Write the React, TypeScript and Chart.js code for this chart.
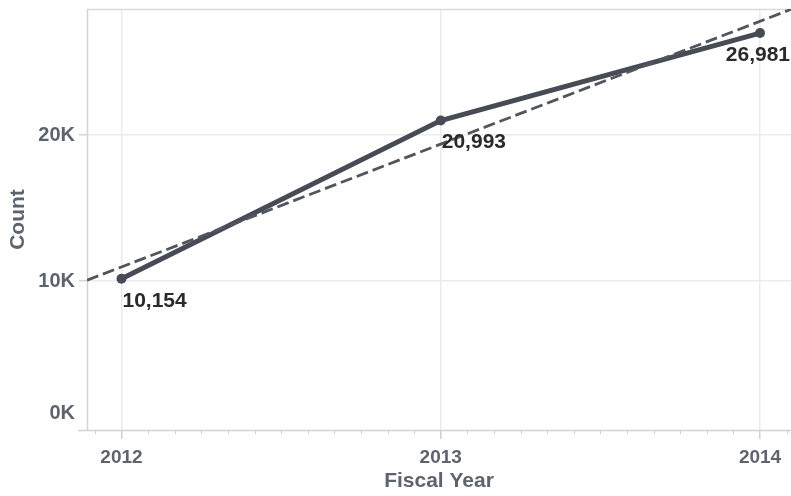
import React, { useEffect, useRef } from "react";
import { Chart, registerables } from "chart.js";

Chart.register(...registerables);

// Fiscal year totals
const years = [2012, 2013, 2014];
const counts = [10154, 20993, 26981];
const yTickValues = [0, 10000, 20000];
const xTickValues = [2012, 2013, 2014];

// Visible axis ranges
const X_MIN = 2011.892;
const X_MAX = 2014.097;
const Y_MIN = -205;
const Y_MAX = 28630;

const FONT = "'Liberation Sans', Arial, sans-serif";
const AXIS_TEXT = "#5e646f";
const LINE_COLOR = "#464b56";
const TREND_COLOR = "#51565e";

// Least-squares trend line over the yearly counts
function trendLine(xs: number[], ys: number[]) {
  const n = xs.length;
  const mx = xs.reduce((a, b) => a + b, 0) / n;
  const my = ys.reduce((a, b) => a + b, 0) / n;
  let sxy = 0;
  let sxx = 0;
  for (let i = 0; i < n; i++) {
    sxy += (xs[i] - mx) * (ys[i] - my);
    sxx += (xs[i] - mx) * (xs[i] - mx);
  }
  const slope = sxy / sxx;
  const at = (x: number) => my + slope * (x - mx);
  return [
    { x: X_MIN, y: at(X_MIN) },
    { x: X_MAX, y: at(X_MAX) },
  ];
}

const formatCount = (v: number) => v.toLocaleString("en-US");

// Frame lines, monthly minor ticks, axis labels and value labels
const decorations = {
  id: "decorations",
  beforeDatasetsDraw(chart: any) {
    const { ctx, chartArea, scales } = chart;
    const x = scales.x;
    ctx.save();
    ctx.lineWidth = 1.5;
    // top border
    ctx.strokeStyle = "#dadada";
    ctx.beginPath();
    ctx.moveTo(chartArea.left, chartArea.top + 0.5);
    ctx.lineTo(chartArea.right, chartArea.top + 0.5);
    ctx.stroke();
    // left border
    ctx.strokeStyle = "#d4d4d4";
    ctx.beginPath();
    ctx.moveTo(chartArea.left + 0.5, chartArea.top);
    ctx.lineTo(chartArea.left + 0.5, chartArea.bottom);
    ctx.stroke();
    // bottom axis line
    ctx.strokeStyle = "#d2d2d2";
    ctx.beginPath();
    ctx.moveTo(chartArea.left - 9, chartArea.bottom + 0.5);
    ctx.lineTo(chartArea.right, chartArea.bottom + 0.5);
    ctx.stroke();
    // monthly minor ticks
    ctx.lineWidth = 1;
    ctx.strokeStyle = "#cfcfcf";
    for (let k = -2; k <= 26; k++) {
      if (k % 12 === 0) continue;
      const v = 2012 + k / 12;
      if (v < X_MIN || v > X_MAX) continue;
      const px = Math.round(x.getPixelForValue(v)) + 0.5;
      ctx.beginPath();
      ctx.moveTo(px, chartArea.bottom);
      ctx.lineTo(px, chartArea.bottom + 4);
      ctx.stroke();
    }
    ctx.restore();
  },
  afterDraw(chart: any) {
    const { ctx, chartArea, scales } = chart;
    const x = scales.x;
    const y = scales.y;
    ctx.save();
    // y tick labels, kept inside the axis span
    ctx.font = `bold 20px ${FONT}`;
    ctx.fillStyle = AXIS_TEXT;
    ctx.textAlign = "right";
    ctx.textBaseline = "middle";
    yTickValues.forEach((v) => {
      const py = Math.min(y.getPixelForValue(v), chartArea.bottom - 17);
      ctx.fillText(`${v / 1000}K`, chartArea.left - 12, py);
    });
    // x tick labels
    ctx.font = `bold 19px ${FONT}`;
    ctx.textAlign = "center";
    xTickValues.forEach((v) => {
      ctx.fillText(String(v), x.getPixelForValue(v), chartArea.bottom + 28);
    });
    // value labels under each point
    const meta = chart.getDatasetMeta(1);
    ctx.font = `bold 21px ${FONT}`;
    ctx.fillStyle = "#2a2a2a";
    ctx.textAlign = "left";
    meta.data.forEach((pt: any, i: number) => {
      const text = formatCount(counts[i]);
      const w = ctx.measureText(text).width;
      let tx = pt.x + 1;
      if (tx + w > chartArea.right - 1) tx = chartArea.right - 1 - w;
      ctx.fillText(text, tx, pt.y + 22);
    });
    ctx.restore();
  },
};

export default function App() {
  const canvasRef = useRef<HTMLCanvasElement | null>(null);

  useEffect(() => {
    if (!canvasRef.current) return;
    const chart = new Chart(canvasRef.current, {
      type: "line",
      data: {
        datasets: [
          {
            label: "Trend",
            data: trendLine(years, counts),
            borderColor: TREND_COLOR,
            borderWidth: 2.8,
            borderDash: [12, 5],
            pointRadius: 0,
            fill: false,
          },
          {
            label: "Count",
            data: years.map((yr, i) => ({ x: yr, y: counts[i] })),
            borderColor: LINE_COLOR,
            backgroundColor: LINE_COLOR,
            borderWidth: 5,
            pointRadius: 5,
            pointBackgroundColor: LINE_COLOR,
            pointBorderWidth: 0,
            fill: false,
          },
        ],
      },
      options: {
        responsive: false,
        animation: false,
        devicePixelRatio: 1,
        layout: { autoPadding: false, padding: { top: 9, right: 0, left: 0, bottom: 0 } },
        plugins: {
          legend: { display: false },
          tooltip: { enabled: false },
        },
        scales: {
          x: {
            type: "linear",
            min: X_MIN,
            max: X_MAX,
            afterBuildTicks: (scale: any) => {
              scale.ticks = xTickValues.map((v) => ({ value: v }));
            },
            afterFit: (scale: any) => {
              scale.height = 66;
            },
            border: { display: false },
            grid: {
              color: "#ebebeb",
              lineWidth: 1.5,
              drawTicks: true,
              tickLength: 9,
              tickColor: "#cfcfcf",
            },
            ticks: { display: false },
            title: {
              display: true,
              text: "Fiscal Year",
              color: AXIS_TEXT,
              font: { family: FONT, size: 21, weight: "bold" },
              padding: { top: 0, bottom: 2 },
            },
          },
          y: {
            type: "linear",
            min: Y_MIN,
            max: Y_MAX,
            afterBuildTicks: (scale: any) => {
              scale.ticks = yTickValues.map((v) => ({ value: v }));
            },
            afterFit: (scale: any) => {
              scale.width = 87;
            },
            border: { display: false },
            grid: {
              color: (c: any) => (c.tick && c.tick.value === 0 ? "rgba(0,0,0,0)" : "#ebebeb"),
              tickColor: (c: any) => (c.tick && c.tick.value === 0 ? "rgba(0,0,0,0)" : "#d6d6d6"),
              lineWidth: 1.5,
              drawTicks: true,
              tickLength: 8,
            },
            ticks: { display: false },
            title: {
              display: true,
              text: "Count",
              color: AXIS_TEXT,
              font: { family: FONT, size: 21, weight: "bold" },
              padding: { top: 6, bottom: 0 },
            },
          },
        },
      },
      plugins: [decorations],
    } as any);
    return () => chart.destroy();
  }, []);

  return (
    <div style={{ position: "fixed", left: 0, top: 0, width: 791, height: 496, background: "#fff" }}>
      <canvas ref={canvasRef} width={791} height={496} style={{ display: "block" }} />
    </div>
  );
}
